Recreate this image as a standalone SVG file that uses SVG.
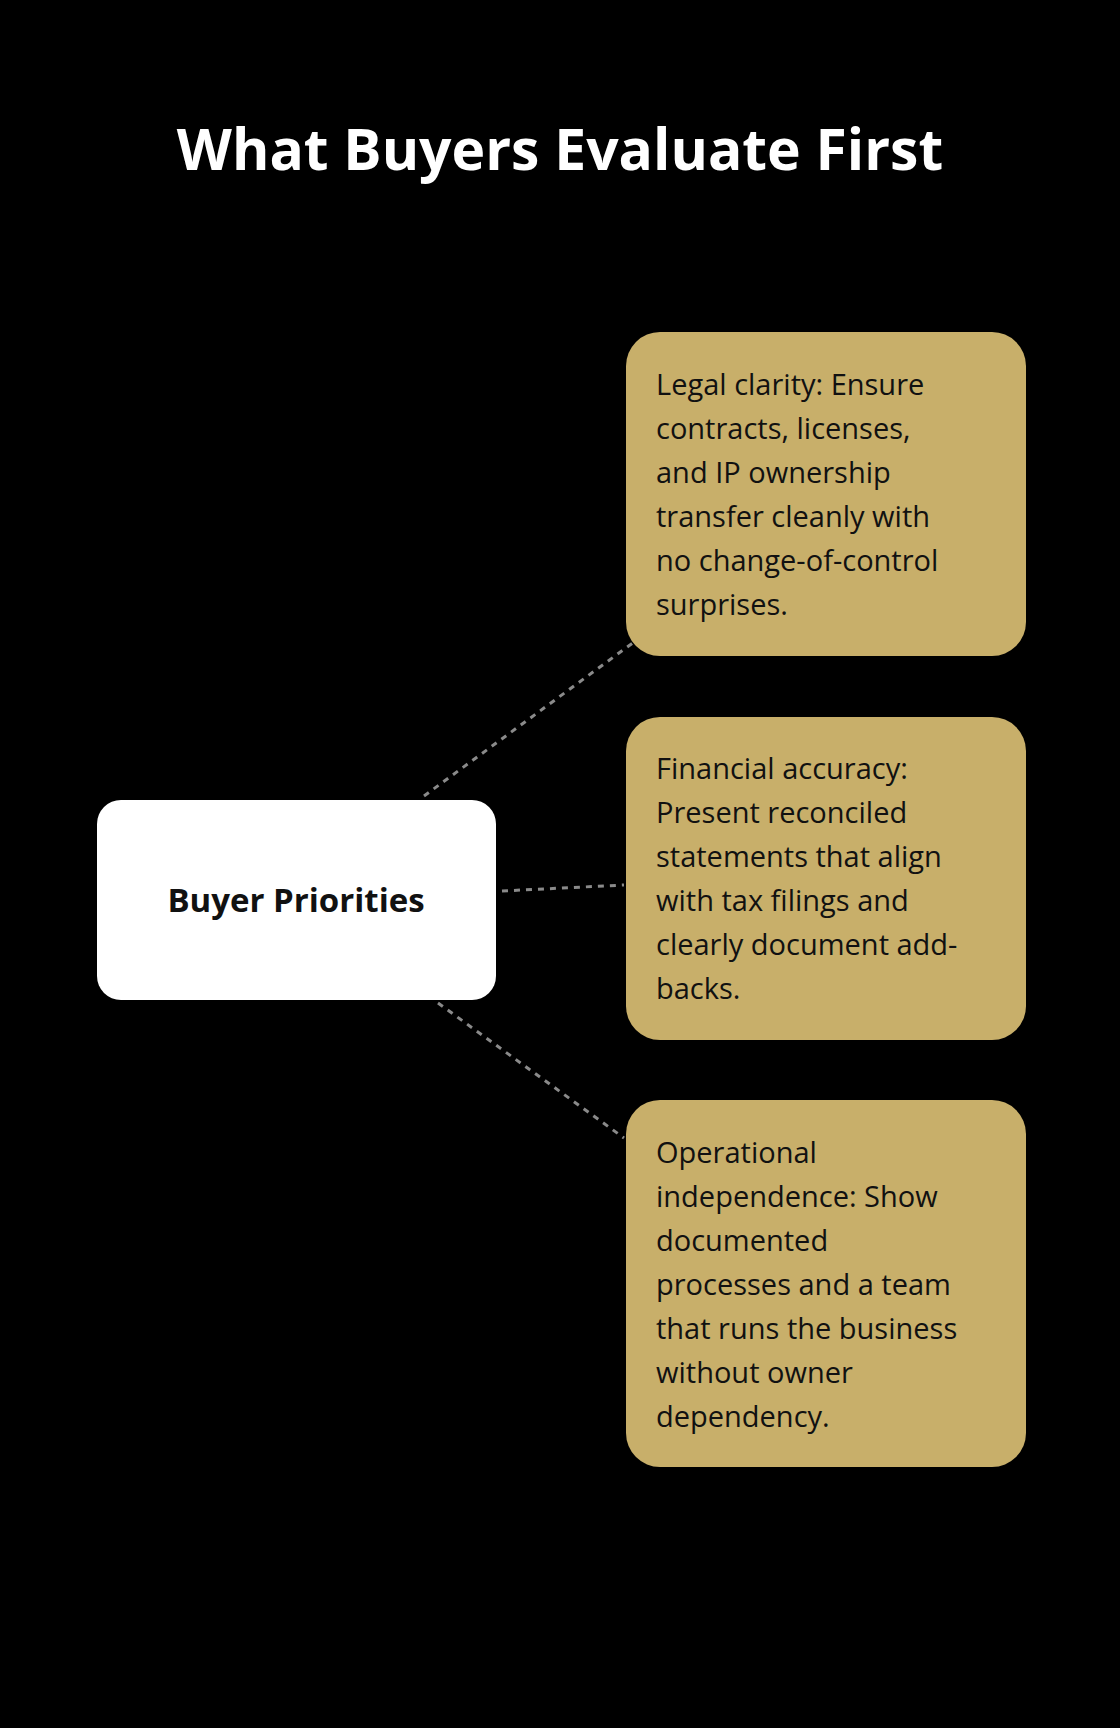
<svg xmlns="http://www.w3.org/2000/svg" width="1120" height="1728" viewBox="0 0 1120 1728">
<style>
.t{font-family:"Open Sans","Noto Sans",sans-serif;font-size:29px;fill:#111}
.box{fill:#C8AF6A}
.c{stroke:#8a8a8a;stroke-width:3;stroke-dasharray:6 6;fill:none}
</style>
<rect width="1120" height="1728" fill="#000"/>
<text x="560" y="170" text-anchor="middle" font-family="'Open Sans','Noto Sans',sans-serif" font-weight="700" font-size="57" fill="#fff">What Buyers Evaluate First</text>
<g id="connectors">
<line class="c" x1="424" y1="796" x2="634" y2="642"/>
<line class="c" x1="502" y1="891" x2="624" y2="885"/>
<line class="c" x1="438" y1="1003" x2="624" y2="1138"/>
</g>
<g id="center">
<rect x="97" y="800" width="399" height="200" rx="24" fill="#fff"/>
<text x="296" y="912" text-anchor="middle" font-family="'Open Sans','Noto Sans',sans-serif" font-weight="700" font-size="33" fill="#111">Buyer Priorities</text>
</g>
<g id="legal">
<rect class="box" x="626" y="332" width="400" height="324" rx="34"/>
<text class="t"><tspan x="656" y="395">Legal clarity: Ensure</tspan><tspan x="656" y="439">contracts, licenses,</tspan><tspan x="656" y="483">and IP ownership</tspan><tspan x="656" y="527">transfer cleanly with</tspan><tspan x="656" y="571">no change-of-control</tspan><tspan x="656" y="615">surprises.</tspan></text>
</g>
<g id="financial">
<rect class="box" x="626" y="717" width="400" height="323" rx="34"/>
<text class="t"><tspan x="656" y="779">Financial accuracy:</tspan><tspan x="656" y="823">Present reconciled</tspan><tspan x="656" y="867">statements that align</tspan><tspan x="656" y="911">with tax filings and</tspan><tspan x="656" y="955">clearly document add-</tspan><tspan x="656" y="999">backs.</tspan></text>
</g>
<g id="operational">
<rect class="box" x="626" y="1100" width="400" height="367" rx="34"/>
<text class="t"><tspan x="656" y="1163">Operational</tspan><tspan x="656" y="1207">independence: Show</tspan><tspan x="656" y="1251">documented</tspan><tspan x="656" y="1295">processes and a team</tspan><tspan x="656" y="1339">that runs the business</tspan><tspan x="656" y="1383">without owner</tspan><tspan x="656" y="1427">dependency.</tspan></text>
</g>
</svg>
